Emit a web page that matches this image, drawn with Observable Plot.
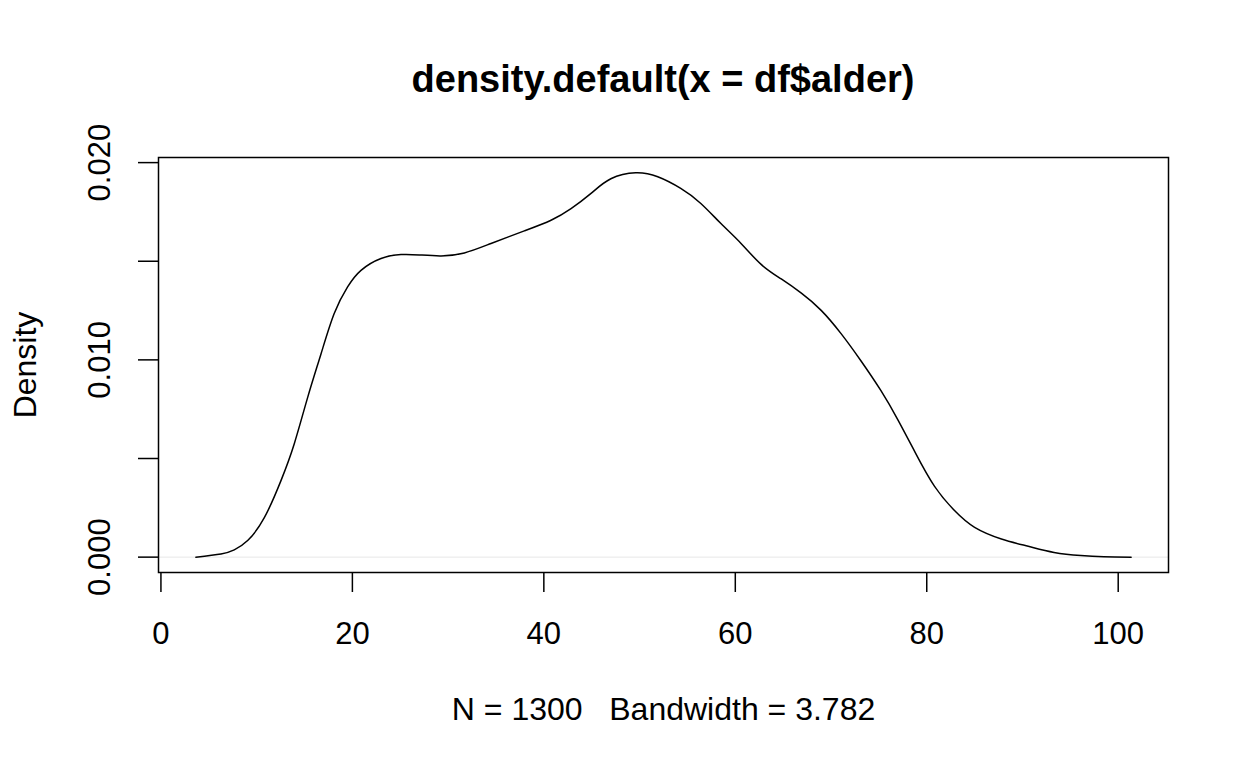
<!DOCTYPE html>
<html><head><meta charset="utf-8">
<script src="https://cdn.jsdelivr.net/npm/d3@7"></script>
<script src="https://cdn.jsdelivr.net/npm/@observablehq/plot@0.6"></script>
<style>
body{margin:0;background:#fff;font-family:"Liberation Sans",Arial,Helvetica,sans-serif;}
#wrap{width:1248px;height:768px;overflow:hidden;background:#fff;}
#title{box-sizing:border-box;height:120px;padding-top:60px;padding-left:158px;width:1168px;text-align:center;font-weight:bold;font-size:38px;line-height:38px;color:#000;white-space:nowrap;}
svg text{white-space:pre;}
</style></head><body>
<div id="wrap"><div id="title"></div><div id="chart"></div></div>
<script>
const title = "density.default(x = df$alder)";
const caption = "N = 1300   Bandwidth = 3.782";
const yLabel = "Density";
const xTicks = [0, 20, 40, 60, 80, 100];
const yTicks = [0, 0.005, 0.010, 0.015, 0.020];
const yTickLabels = [0, 0.010, 0.020];
const ageX = [3.65, 6.27, 7.66, 9.06, 10.8, 12.54, 13.93, 15.33, 16.72, 18.1, 19.5, 20.9, 22.99, 25.08, 27.0, 29.26, 31.7, 34.48, 37.96, 40.75, 42.84, 44.93, 47.0, 49.6, 51.9, 54.3, 56.4, 58.5, 60.6, 62.7, 64.8, 66.9, 68.97, 71.05, 73.1, 75.2, 77.0, 78.8, 80.8, 82.9, 85.0, 87.8, 90.6, 93.3, 96.1, 98.5, 101.35];
const densityY = [0.00000, 0.00016, 0.00037, 0.00084, 0.00200, 0.00388, 0.00575, 0.00810, 0.01030, 0.01235, 0.01370, 0.01454, 0.01514, 0.01534, 0.01532, 0.01527, 0.01542, 0.01590, 0.01654, 0.01708, 0.01767, 0.01844, 0.01918, 0.01948, 0.01928, 0.01869, 0.01793, 0.01691, 0.01590, 0.01484, 0.01410, 0.01338, 0.01251, 0.01133, 0.00997, 0.00845, 0.00695, 0.00530, 0.00360, 0.00236, 0.00151, 0.00092, 0.00055, 0.00024, 0.00008, 0.00002, 0.00000];

document.getElementById("title").textContent = title;
const data = ageX.map((x, i) => ({x, y: densityY[i]}));
const font = '"Liberation Sans",Arial,Helvetica,sans-serif';

const chart = Plot.plot({
  width: 1248, height: 648,
  marginLeft: 158, marginRight: 80, marginTop: 37, marginBottom: 196,
  style: {fontFamily: font, fontSize: "32px", color: "#000", background: "#fff", overflow: "visible"},
  x: {domain: [-0.254, 105.254]},
  y: {domain: [-0.000779, 0.020259]},
  marks: [
    Plot.ruleY([0], {stroke: "#cccccc", strokeWidth: 0.5}),
    Plot.line(data, {x: "x", y: "y", stroke: "#000", strokeWidth: 1.5, curve: "natural"}),
    Plot.frame({stroke: "#000", strokeWidth: 1.5}),
    Plot.axisX(xTicks, {tickSize: 20, tickPadding: 29, fontSize: 31, label: null, stroke: "#000", strokeWidth: 1.5, strokeOpacity: 1}),
    Plot.axisY(yTicks, {tickSize: 20, tickFormat: () => "", label: null, stroke: "#000", strokeWidth: 1.5, strokeOpacity: 1}),
    Plot.text(yTickLabels, {y: d => d, text: d => d3.format(".3f")(d), frameAnchor: "left", textAnchor: "middle", dx: -58, rotate: -90, fontSize: 31, fill: "#000"}),
    Plot.text([yLabel], {text: d => d, frameAnchor: "left", textAnchor: "middle", dx: -133, rotate: -90, fontSize: 32, fill: "#000"}),
    Plot.text([caption], {text: d => d, frameAnchor: "bottom", dy: 125, lineAnchor: "top", fontSize: 32, fill: "#000"})
  ]
});
document.getElementById("chart").appendChild(chart);
</script>
</body></html>
